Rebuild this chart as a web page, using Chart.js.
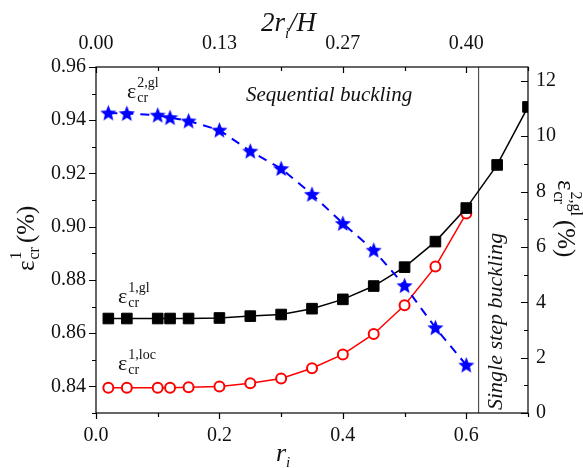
<!DOCTYPE html>
<html>
<head>
<meta charset="utf-8">
<script src="https://cdn.jsdelivr.net/npm/chart.js@4.4.1/dist/chart.umd.min.js"></script>
<style>
  html, body { margin: 0; padding: 0; background: #fff; }
  #wrap { width: 583px; height: 468px; }
</style>
</head>
<body>
<div id="wrap"><canvas id="chart" width="583" height="468"></canvas></div>
<script>
// r_i values of the computed models
const rLoc = [0.02, 0.05, 0.10, 0.12, 0.15, 0.20, 0.25, 0.30, 0.35, 0.40, 0.45, 0.50, 0.55, 0.60];
const rGl = [0.02, 0.05, 0.10, 0.12, 0.15, 0.20, 0.25, 0.30, 0.35, 0.40, 0.45, 0.50, 0.55, 0.60, 0.65, 0.70];

// critical strains (%)
const epsLoc1 = [0.8395, 0.8395, 0.8395, 0.8395, 0.8397, 0.8400, 0.8412, 0.8430, 0.8468, 0.8520, 0.8597, 0.8705, 0.8850, 0.9050];
const epsGl1 = [0.8655, 0.8655, 0.8655, 0.8655, 0.8655, 0.8657, 0.8664, 0.8670, 0.8692, 0.8727, 0.8777, 0.8848, 0.8944, 0.9070, 0.9232, 0.9450];
const epsGl2 = [10.84, 10.82, 10.76, 10.67, 10.55, 10.22, 9.46, 8.83, 7.90, 6.85, 5.88, 4.60, 3.08, 1.73];

// boundary between sequential and single step buckling
const boundaryR = 0.62;

// tick labels
const xTicks = [0, 0.2, 0.4, 0.6];
const topTickLabels = ['0.00', '0.13', '0.27', '0.40'];
const yTicks = [0.84, 0.86, 0.88, 0.90, 0.92, 0.94, 0.96];
const y2Ticks = [0, 2, 4, 6, 8, 10, 12];

const SERIF = "'Liberation Serif', 'Times New Roman', serif";
Chart.defaults.font.family = SERIF;
Chart.defaults.font.size = 20;
Chart.defaults.color = '#111';

const toPoints = (xs, ys) => ys.map((y, i) => ({ x: xs[i], y: y }));

// filled five point star for the blue series
function makeStar(size, color) {
  const c = document.createElement('canvas');
  c.width = size; c.height = size;
  const g = c.getContext('2d');
  const cx = size / 2, cy = size / 2 + 0.6, ro = size / 2, ri = ro * 0.44;
  g.beginPath();
  for (let i = 0; i < 10; i++) {
    const r = i % 2 === 0 ? ro : ri;
    const a = -Math.PI / 2 + i * Math.PI / 5;
    g.lineTo(cx + r * Math.cos(a), cy + r * Math.sin(a));
  }
  g.closePath();
  g.fillStyle = color;
  g.fill();
  return c;
}
const star = makeStar(17, '#0000ff');

// frame plus inner/outer tick marks (major and minor)
const frameTicks = {
  id: 'frameTicks',
  afterDraw(chart) {
    const { ctx, chartArea: a, scales } = chart;
    ctx.save();
    ctx.strokeStyle = '#000';
    ctx.lineWidth = 1.2;
    ctx.strokeRect(a.left, a.top, a.right - a.left, a.bottom - a.top);
    ctx.beginPath();
    for (let i = 0; i <= 7; i++) {
      const px = Math.round(scales.x.getPixelForValue(i / 10)) + 0.5;
      const len = i % 2 === 0 ? 6 : 4;
      ctx.moveTo(px, a.bottom); ctx.lineTo(px, a.bottom + len);
      ctx.moveTo(px, a.top); ctx.lineTo(px, a.top + len);
    }
    for (let i = 83; i <= 96; i++) {
      const py = Math.round(scales.y.getPixelForValue(i / 100)) + 0.5;
      const len = i % 2 === 0 ? 7 : 4;
      ctx.moveTo(a.left - len, py); ctx.lineTo(a.left, py);
    }
    for (let i = 0; i <= 12; i++) {
      const py = Math.round(scales.y2.getPixelForValue(i)) + 0.5;
      const len = i % 2 === 0 ? 7 : 4;
      ctx.moveTo(a.right - len, py); ctx.lineTo(a.right, py);
    }
    ctx.stroke();
    ctx.restore();
  }
};

// epsilon with stacked superscript / subscript
function eps(ctx, x, y, size, sup, sub) {
  ctx.font = `${size}px ${SERIF}`;
  ctx.fillText('\u03B5', x, y);
  const w = ctx.measureText('\u03B5').width + 1;
  const s = Math.round(size * 0.64);
  ctx.font = `${s}px ${SERIF}`;
  ctx.fillText(sup, x + w, y - size * 0.52);
  ctx.fillText(sub, x + w, y + size * 0.18);
  return w + Math.max(ctx.measureText(sup).width, ctx.measureText(sub).width);
}

const texts = {
  id: 'texts',
  afterDraw(chart) {
    const ctx = chart.ctx;
    ctx.save();
    ctx.fillStyle = '#111';
    ctx.textBaseline = 'alphabetic';
    ctx.textAlign = 'left';

    // series labels
    eps(ctx, 127, 98, 22, '2,gl', 'cr');
    eps(ctx, 118, 303, 22, '1,gl', 'cr');
    eps(ctx, 118, 370, 22, '1,loc', 'cr');

    // regions
    ctx.font = `italic 21px ${SERIF}`;
    ctx.fillText('Sequential buckling', 246, 101);
    ctx.save();
    ctx.translate(502, 410);
    ctx.rotate(-Math.PI / 2);
    ctx.font = `italic 22px ${SERIF}`;
    ctx.fillText('Single step buckling', 0, 0);
    ctx.restore();

    // bottom axis title r_i
    ctx.font = `italic 26px ${SERIF}`;
    ctx.fillText('r', 276, 461);
    ctx.font = `italic 15px ${SERIF}`;
    ctx.fillText('i', 286, 467);

    // top axis title 2r_i/H
    ctx.font = `italic 27px ${SERIF}`;
    ctx.fillText('2r', 261, 31);
    let w = ctx.measureText('2r').width;
    ctx.font = `italic 15px ${SERIF}`;
    ctx.fillText('i', 261 + w, 38);
    ctx.font = `italic 27px ${SERIF}`;
    ctx.fillText('/H', 261 + w + 4, 31);

    // left axis title
    ctx.save();
    ctx.translate(34, 231);
    ctx.rotate(-Math.PI / 2);
    w = eps(ctx, -40, 0, 25, '1', 'cr');
    ctx.font = `25px ${SERIF}`;
    ctx.fillText('(%)', -40 + w + 4, 0);
    ctx.restore();

    // right axis title
    ctx.save();
    ctx.translate(558, 222);
    ctx.rotate(Math.PI / 2);
    w = eps(ctx, -42, 0, 25, '2,gl', 'cr');
    ctx.font = `25px ${SERIF}`;
    ctx.fillText('(%)', -42 + w + 4, 0);
    ctx.restore();

    ctx.restore();
  }
};

new Chart(document.getElementById('chart'), {
  type: 'line',
  data: {
    datasets: [
      {
        label: 'eps 2,gl',
        data: toPoints(rLoc, epsGl2),
        yAxisID: 'y2',
        borderColor: '#0000ff',
        borderWidth: 2,
        borderDash: [9, 7],
        pointStyle: star,
        pointRadius: 8,
        fill: false
      },
      {
        label: 'eps 1,gl',
        data: toPoints(rGl, epsGl1),
        yAxisID: 'y',
        borderColor: '#000',
        borderWidth: 1.5,
        pointStyle: 'rect',
        pointRadius: 7.5,
        pointBorderWidth: 1,
        pointBackgroundColor: '#000',
        pointBorderColor: '#000',
        fill: false
      },
      {
        label: 'eps 1,loc',
        data: toPoints(rLoc, epsLoc1),
        yAxisID: 'y',
        borderColor: '#ff0000',
        borderWidth: 1.5,
        pointStyle: 'circle',
        pointRadius: 5,
        pointBorderWidth: 2,
        pointBackgroundColor: '#fff',
        pointBorderColor: '#ff0000',
        fill: false
      },
      {
        label: 'boundary',
        data: [{ x: boundaryR, y: 0.83 }, { x: boundaryR, y: 0.96 }],
        yAxisID: 'y',
        borderColor: '#333',
        borderWidth: 1,
        pointRadius: 0,
        fill: false
      }
    ]
  },
  options: {
    responsive: false,
    animation: false,
    layout: { padding: 0 },
    plugins: { legend: { display: false }, tooltip: { enabled: false } },
    scales: {
      x: {
        type: 'linear', position: 'bottom', min: 0, max: 0.7,
        grid: { display: false, drawTicks: false }, border: { display: false },
        afterBuildTicks: s => { s.ticks = xTicks.map(v => ({ value: v })); },
        afterFit: s => { s.height = 55; },
        ticks: { padding: 11, autoSkip: false, maxRotation: 0, callback: v => v.toFixed(1) }
      },
      x2: {
        type: 'linear', position: 'top', min: 0, max: 0.7,
        grid: { display: false, drawTicks: false }, border: { display: false },
        afterBuildTicks: s => { s.ticks = xTicks.map(v => ({ value: v })); },
        afterFit: s => { s.height = 67; },
        ticks: { padding: 11, autoSkip: false, maxRotation: 0, callback: (v, i) => topTickLabels[i] }
      },
      y: {
        type: 'linear', position: 'left', min: 0.83, max: 0.96,
        grid: { display: false, drawTicks: false }, border: { display: false },
        afterBuildTicks: s => { s.ticks = yTicks.map(v => ({ value: v })); },
        afterFit: s => { s.width = 96; },
        ticks: { padding: 10, autoSkip: false, callback: v => v.toFixed(2) }
      },
      y2: {
        type: 'linear', position: 'right', min: 0, max: 12.5,
        grid: { display: false, drawTicks: false }, border: { display: false },
        afterBuildTicks: s => { s.ticks = y2Ticks.map(v => ({ value: v })); },
        afterFit: s => { s.width = 55; },
        ticks: { padding: 8, autoSkip: false, callback: v => String(v) }
      }
    }
  },
  plugins: [frameTicks, texts]
});
</script>
</body>
</html>
